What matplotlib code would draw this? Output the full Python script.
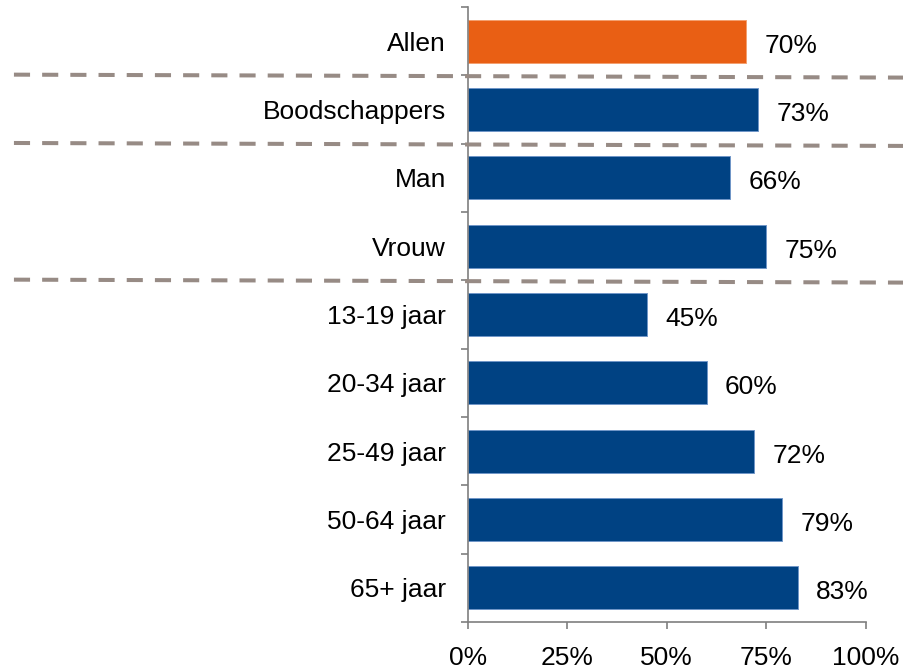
import matplotlib
matplotlib.use("Agg")
import matplotlib.pyplot as plt
from matplotlib.ticker import FixedLocator, FuncFormatter
import matplotlib.transforms as mtransforms

categories = ["Allen", "Boodschappers", "Man", "Vrouw", "13-19 jaar",
              "20-34 jaar", "25-49 jaar", "50-64 jaar", "65+ jaar"]
values = [70, 73, 66, 75, 45, 60, 72, 79, 83]
highlight = ["Allen"]
separators_after = ["Allen", "Boodschappers", "Vrouw"]
x_ticks = [0, 25, 50, 75, 100]

plt.rcParams['font.family'] = ['Liberation Sans', 'DejaVu Sans']

ORANGE = "#E95F14"
ORANGE_EDGE = "#F4A070"
BLUE = "#004283"
BLUE_EDGE = "#7096c8"
AXIS = "#7f7f7f"
DASH = "#978b85"
FS = 19

fig = plt.figure(figsize=(9.04, 6.68), dpi=100)
ax = fig.add_axes([0.51770, 0.06886, 0.43982, 0.92066])

ypos = list(range(len(categories)))
colors = [ORANGE if c in highlight else BLUE for c in categories]
edges = [ORANGE_EDGE if c in highlight else BLUE_EDGE for c in categories]
ax.barh(ypos, values, height=0.63, color=colors,
        edgecolor=edges, linewidth=0.7, zorder=2)

for y, v in zip(ypos, values):
    ax.annotate(f"{v}%", xy=(v, y), xytext=(13, -3.3), textcoords="offset points",
                ha="left", va="center", fontsize=FS, color="black")

ax.set_xlim(0, 100)
ax.set_ylim(len(categories) - 0.5, -0.5)

ax.set_xticks(x_ticks)
ax.xaxis.set_major_formatter(FuncFormatter(lambda v, p: f"{int(v)}%"))
ax.tick_params(axis="x", direction="out", length=5, width=1.2, color=AXIS,
               labelsize=FS, pad=12)

ax.set_yticks(ypos)
ax.set_yticklabels(categories)
ax.tick_params(axis="y", which="major", length=0, labelsize=FS, pad=15.8)
ax.yaxis.set_minor_locator(FixedLocator([i - 0.5 for i in range(len(categories) + 1)]))
ax.tick_params(axis="y", which="minor", direction="out", length=5, width=1.2, color=AXIS)

for s in ["top", "right"]:
    ax.spines[s].set_visible(False)
for s in ["left", "bottom"]:
    ax.spines[s].set_color(AXIS)
    ax.spines[s].set_linewidth(1.2)

trans = mtransforms.blended_transform_factory(ax.transAxes, ax.transData)
for name in separators_after:
    b = categories.index(name) + 0.5
    line = plt.Line2D([-1.142, 1.2], [b - 0.01, b + 0.035], transform=trans,
                      color=DASH, linewidth=2.9, linestyle=(0, (4, 3)),
                      clip_on=False, zorder=5, solid_capstyle="butt",
                      dash_capstyle="butt")
    ax.add_line(line)

fig.savefig("out.png", dpi=100)
